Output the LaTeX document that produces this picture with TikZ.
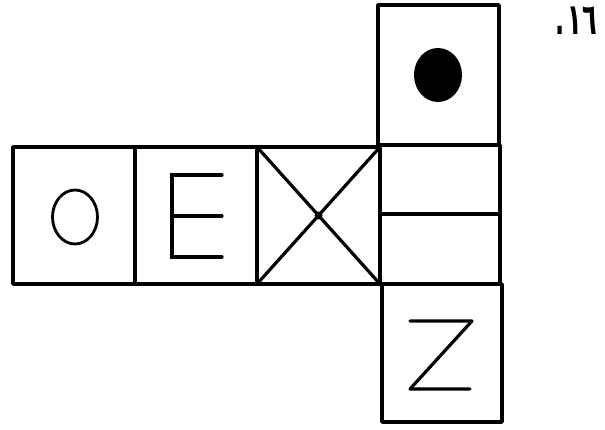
\documentclass[tikz,border=0pt]{standalone}
\usepackage{fontspec}
\usepackage{graphicx}
\newfontfamily\arabicfont{DejaVu Sans}
\begin{document}
\begin{tikzpicture}[x=1pt,y=-1pt,
  facebox/.style={draw=black,line width=3.4pt,line join=round},
  mark line/.style={draw=black,line width=3.2pt,line cap=round}]
\useasboundingbox (0,0) rectangle (605,430);
% faces of the net
\draw[facebox] (13,147) rectangle (135,284);
\draw[facebox] (135,147) rectangle (257,284);
\draw[facebox] (257,147) rectangle (380,284);
\draw[facebox] (380,145) rectangle (500,284);
\draw[facebox] (378,5) rectangle (499,145);
\draw[facebox] (382,284) rectangle (502,422);
% split line in the right face
\draw[mark line] (380,214) -- (500,214);
% O
\draw[line width=2.8pt] (75,217) ellipse [x radius=22.5, y radius=27];
% E
\draw[mark line] (222,175) -- (172,175) -- (172,257) -- (222,257);
\draw[mark line] (172,216) -- (222,216);
% X
\draw[mark line] (257,147) -- (380,284);
\draw[mark line] (380,147) -- (257,284);
\fill (318.5,215.5) circle (4);
% filled dot
\fill (438,75) ellipse [x radius=24, y radius=27];
% Z
\draw[mark line,line join=round] (410,321) -- (472,321) -- (410,389) -- (470,389);
% number label
\node[inner sep=0pt,anchor=base east] (num) at (597,35) {\scalebox{0.8}[1.45]{\arabicfont\bfseries\fontsize{30}{34}\selectfont .\kern4pt١٦}};
\end{tikzpicture}
\end{document}
